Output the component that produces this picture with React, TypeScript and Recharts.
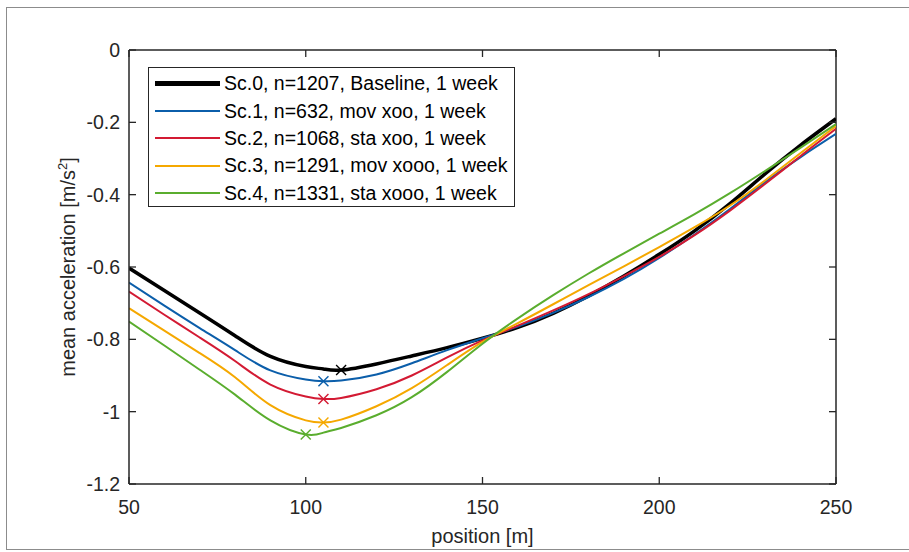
import React from 'react'
import { ComposedChart, Line, XAxis, YAxis, ReferenceLine } from 'recharts'

// position [m]
const positions = [50, 60, 70, 80, 90, 100, 105, 110, 120, 130, 140, 150, 160, 170, 180, 190, 200, 210, 220, 230, 240, 250]

// mean acceleration [m/s^2], one list per scenario
const sc0 = [-0.603, -0.665, -0.727, -0.79, -0.847, -0.875, -0.882, -0.885, -0.868, -0.846, -0.823, -0.797, -0.767, -0.728, -0.68, -0.625, -0.565, -0.5, -0.425, -0.342, -0.263, -0.19]
const sc1 = [-0.643, -0.707, -0.769, -0.83, -0.886, -0.911, -0.916, -0.914, -0.897, -0.866, -0.83, -0.797, -0.765, -0.727, -0.683, -0.633, -0.575, -0.51, -0.44, -0.365, -0.296, -0.232]
const sc2 = [-0.668, -0.732, -0.795, -0.86, -0.925, -0.958, -0.965, -0.962, -0.938, -0.9, -0.85, -0.803, -0.762, -0.72, -0.675, -0.625, -0.572, -0.512, -0.444, -0.37, -0.293, -0.218]
const sc3 = [-0.714, -0.776, -0.838, -0.905, -0.982, -1.024, -1.03, -1.022, -0.985, -0.935, -0.871, -0.807, -0.755, -0.703, -0.65, -0.598, -0.545, -0.49, -0.43, -0.36, -0.285, -0.21]
const sc4 = [-0.751, -0.817, -0.884, -0.953, -1.024, -1.063, -1.058, -1.045, -1.01, -0.96, -0.89, -0.812, -0.742, -0.678, -0.618, -0.562, -0.508, -0.454, -0.396, -0.334, -0.27, -0.205]

// position of the marked minimum of each scenario
const minPos = [110, 105, 105, 105, 100]

const names = [
  'Sc.0, n=1207, Baseline, 1 week',
  'Sc.1, n=632, mov xoo, 1 week',
  'Sc.2, n=1068, sta xoo, 1 week',
  'Sc.3, n=1291, mov xooo, 1 week',
  'Sc.4, n=1331, sta xooo, 1 week',
]
const colors = ['#000000', '#0b5eaa', '#d31a33', '#f5a800', '#5aad2e']
const widths = [3.5, 2, 2, 2, 2]
const keys = ['sc0', 'sc1', 'sc2', 'sc3', 'sc4']

const xTicks = [50, 100, 150, 200, 250]
const yTicks = [0, -0.2, -0.4, -0.6, -0.8, -1, -1.2]

const data = positions.map((pos, i) => ({
  pos, sc0: sc0[i], sc1: sc1[i], sc2: sc2[i], sc3: sc3[i], sc4: sc4[i],
}))

const W = 909
const H = 552
const PLOT = { left: 129, top: 50, right: 836, bottom: 484 }
const AXIS = '#262626'
const FONT = '"Liberation Sans", Arial, sans-serif'
const TICK_LEN = 7

// bottom tick: label, inward tick, and the matching tick on the top edge of the box
function BottomTick({ payload }: any) {
  const x = payload.coordinate
  return (
    <g>
      <line x1={x} x2={x} y1={PLOT.bottom} y2={PLOT.bottom - TICK_LEN} stroke={AXIS} strokeWidth={1.3} />
      <line x1={x} x2={x} y1={PLOT.top} y2={PLOT.top + TICK_LEN} stroke={AXIS} strokeWidth={1.3} />
      <text x={x} y={PLOT.bottom + 30} textAnchor="middle" fontSize={19.5} fill={AXIS} fontFamily={FONT}>{payload.value}</text>
    </g>
  )
}

// left tick: label, inward tick, and the matching tick on the right edge of the box
function LeftTick({ payload }: any) {
  const y = payload.coordinate
  return (
    <g>
      <line x1={PLOT.left} x2={PLOT.left + TICK_LEN} y1={y} y2={y} stroke={AXIS} strokeWidth={1.3} />
      <line x1={PLOT.right} x2={PLOT.right - TICK_LEN} y1={y} y2={y} stroke={AXIS} strokeWidth={1.3} />
      <text x={PLOT.left - 9} y={y + 7} textAnchor="end" fontSize={19.5} fill={AXIS} fontFamily={FONT}>{payload.value}</text>
    </g>
  )
}

function makeMinDot(idx: number) {
  return (props: any) => {
    const { cx, cy, payload, index } = props
    if (payload.pos !== minPos[idx]) return <g key={`d${idx}-${index}`} />
    const r = 5
    return (
      <g key={`d${idx}-${index}`} stroke={colors[idx]} strokeWidth={1.4}>
        <line x1={cx - r} y1={cy - r} x2={cx + r} y2={cy + r} />
        <line x1={cx - r} y1={cy + r} x2={cx + r} y2={cy - r} />
      </g>
    )
  }
}

function LegendBox() {
  return (
    <div style={{
      position: 'absolute', left: 148, top: 67,
      width: 367, height: 140, border: `1px solid ${AXIS}`, background: '#fff',
      boxSizing: 'border-box', paddingTop: 2, fontFamily: FONT, fontSize: 19.5, color: '#000',
    }}>
      {names.map((n, i) => (
        <div key={n} style={{ display: 'flex', alignItems: 'center', height: 27.4 }}>
          <div style={{ width: 65, height: widths[i] === 2 ? 2 : 4.5, background: colors[i], marginLeft: 6, marginRight: 4 }} />
          <span style={{ whiteSpace: 'nowrap' }}>{n}</span>
        </div>
      ))}
    </div>
  )
}

export default function App() {
  const midY = (PLOT.top + PLOT.bottom) / 2
  const midX = (PLOT.left + PLOT.right) / 2
  return (
    <div style={{ position: 'absolute', left: 0, top: 0, width: W, height: H, background: '#fff', overflow: 'hidden' }}>
      <div style={{ position: 'absolute', left: 6, top: 7, width: 940, height: 543, border: '1.5px solid #8c8c8c', boxSizing: 'border-box' }} />
      <ComposedChart width={W} height={H} data={data}
        margin={{ top: PLOT.top, right: W - PLOT.right, bottom: 0, left: 0 }}>
        <XAxis dataKey="pos" type="number" domain={[50, 250]} ticks={xTicks} allowDataOverflow
          height={H - PLOT.bottom} tick={<BottomTick />} tickLine={false} axisLine={{ stroke: AXIS, strokeWidth: 1.5 }} />
        <YAxis type="number" domain={[-1.2, 0]} ticks={yTicks} allowDataOverflow
          width={PLOT.left} tick={<LeftTick />} tickLine={false} axisLine={{ stroke: AXIS, strokeWidth: 1.5 }} />
        <ReferenceLine y={0} stroke={AXIS} strokeWidth={1.5} />
        <ReferenceLine x={250} stroke={AXIS} strokeWidth={1.5} />
        {keys.map((k, i) => (
          <Line key={k} type="natural" dataKey={k} name={names[i]}
            stroke={colors[i]} strokeWidth={widths[i]} dot={makeMinDot(i)} activeDot={false}
            isAnimationActive={false} />
        ))}
        <text x={midX} y={543} textAnchor="middle" fontSize={20} fill={AXIS} fontFamily={FONT}>position [m]</text>
        <text transform={`translate(75, ${midY}) rotate(-90)`} textAnchor="middle" fontSize={20} fill={AXIS} fontFamily={FONT}>
          mean acceleration [m/s<tspan dy={-8} fontSize={13}>2</tspan><tspan dy={8}>]</tspan>
        </text>
      </ComposedChart>
      <LegendBox />
    </div>
  )
}
